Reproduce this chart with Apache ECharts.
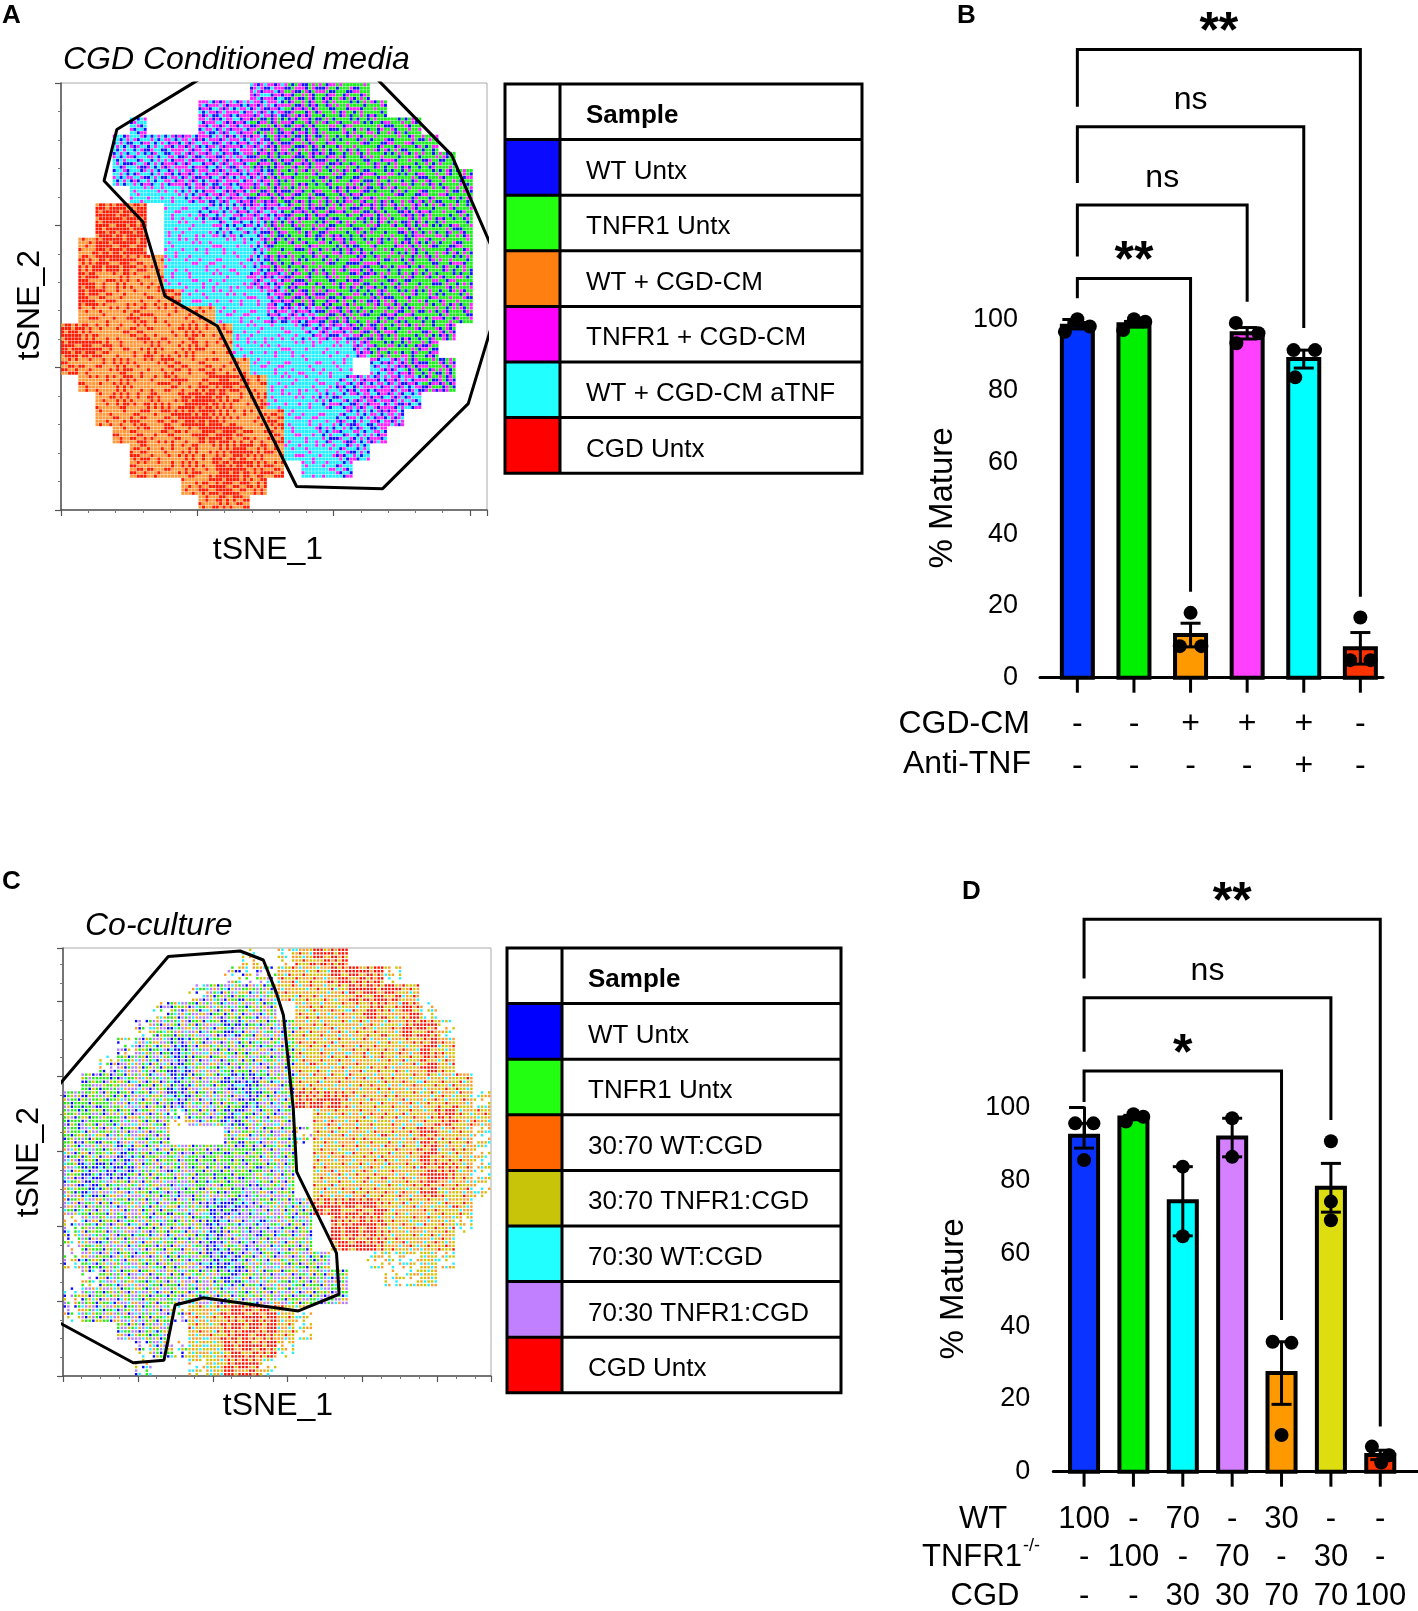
<!DOCTYPE html>
<html>
<head>
<meta charset="utf-8">
<title>tSNE maps and % mature</title>
<script src="https://cdn.jsdelivr.net/npm/echarts@6.0.0/dist/echarts.min.js"></script>
<style>
html, body { margin: 0; padding: 0; background: #fff; }
#chart { width: 1418px; height: 1611px; }
</style>
</head>
<body>
<div id="chart"></div>
<script>
var FONT = '"Liberation Sans", Arial, Helvetica, sans-serif';

// ---------- panel A : tSNE, CGD conditioned media ----------
var samplesA = ['WT Untx', 'TNFR1 Untx', 'WT + CGD-CM', 'TNFR1 + CGD-CM', 'WT + CGD-CM aTNF', 'CGD Untx'];
var keysA = ['b', 'g', 'o', 'm', 'c', 'r'];
var swatchA = ['#0a0aff', '#22ff11', '#ff8010', '#ff00ff', '#22ffff', '#ff0000'];
var dotA = ['#1414ff', '#1ef01e', '#ff9a3a', '#ff22ff', '#22f0ff', '#ff1a00'];
// which samples dominate each cell of the map
var mixA = { r: 'rrrro', o: 'oooor', h: 'oror', c: 'ccccm', k: 'cmcb', m: 'mbmc', x: 'mbg', g: 'ggbgm' };
var cellsRowsA = [
  '...........mmxxxgg......',
  '........mmmmmxxgggg.....',
  '....k...mmmxxxxgggggg...',
  '...kkkmmmmmmxxxggggggg..',
  '...kkkmmmmmxxxxxggggggg.',
  '...kkkmmmmmmxggggxgggggg',
  '....ccckmmmxxxggxxgggggg',
  '..rrr.cckkmmmxxxgxxgxggg',
  '..rrr.ccckkkxggxggggxggg',
  '.orrr.ccccckggggxgggxggg',
  '.hrrhoccccckxggggxgggggg',
  '.rohoocccccmmxgggxgggggg',
  '.rhooohcccccmxxxggxggggg',
  '.ooohoooocccmmmxxggxgggg',
  'rhoohoohoocccckmmxxgggx.',
  'rrhoohohoocccccccmgggx..',
  'hoohoohohoocccccc.kmxgx.',
  '.oohoohohrhocccckmmmmxx.',
  '..ohohorrhohccckkmmmk...',
  '..oohohrrhoohccckkmm....',
  '...ohohorrhohcckkkm.....',
  '....hoohohrhoccckk......',
  '....hoohorrhh.cck.......',
  '.......ohrhh............',
  '........ohh.............'
];
var gateA = [[35.9, 103], [30.7, 99.8], [13.1, 89.1], [10.1, 77.1], [19.2, 67.5], [24.4, 50.1], [36.7, 43.1],
  [55.3, 5.5], [75.5, 5.0], [95.6, 24.9], [101, 42.8], [101, 61.8], [91.7, 83.1], [75.3, 99.8], [72.2, 103]];

// ---------- panel B : % mature, conditioned media ----------
var bConditions = ['WT Untx', 'TNFR1 Untx', 'WT + CGD-CM', 'TNFR1 + CGD-CM', 'WT + CGD-CM aTNF', 'CGD Untx'];
var bMeans = [98.2, 98.6, 11.9, 96.1, 88.9, 8.2];
var bSem = [0.9, 0.8, 3.3, 1.6, 2.5, 4.4];
var bColors = ['#0033ff', '#00f000', '#ff9900', '#ff40ff', '#00ffff', '#ff3300'];
var bPoints = [
  [[-0.22, 96.5], [0, 100], [0.22, 98]],
  [[-0.19, 97], [0, 100], [0.2, 99.3]],
  [[0, 18.1], [-0.19, 8.8], [0.19, 8.8]],
  [[-0.2, 99], [-0.19, 93.3], [0.2, 96.1]],
  [[-0.18, 91.4], [0.2, 91.4], [-0.15, 83.8]],
  [[0, 16.8], [-0.18, 4.9], [0.18, 4.9]]
];
var bCgdCm = ['-', '-', '+', '+', '+', '-'];
var bAntiTnf = ['-', '-', '-', '-', '+', '-'];
var bPairs = [[0, 2], [0, 3], [0, 4], [0, 5]];
var bLevels = [111.4, 131.9, 153.7, 175.3];
var bLegs = [[105.9, 24], [117.5, 104.9], [138, 97.6], [159.3, 22.6]];
var bSig = ['**', 'ns', 'ns', '**'];

// ---------- panel C : tSNE, co-culture ----------
var samplesC = ['WT Untx', 'TNFR1 Untx', '30:70 WT:CGD', '30:70 TNFR1:CGD', '70:30 WT:CGD', '70:30 TNFR1:CGD', 'CGD Untx'];
var keysC = ['b', 'g', 'o', 'y', 'c', 'p', 'r'];
var swatchC = ['#0000ff', '#22ff11', '#ff6600', '#c8c40a', '#22ffff', '#c080ff', '#ff0000'];
var dotC = ['#0a0aff', '#22ee11', '#ff9a2a', '#d0c400', '#22f0ff', '#b47cff', '#ff1000'];
var mixC = { L: 'pgpbcyog', S: 'pgbcyo', B: 'bbpgcb', G: 'ggpbgy', P: 'ppbgcp', Q: 'oyoycroy', s: 'oyc', R: 'rrorry', Y: 'yoyc' };
var cellsRowsC = [
  '..........s.sQRR........',
  '.........SSSQQQRRRs.....',
  '.......SLLLLQQQQRRRQ....',
  '.....SLLLLLL.QQQQRQRs...',
  '....SLLLLBLLLQQQQQQRRs..',
  '...SLLBLLLLLLQQQQQQQRQ..',
  '..SLLLBLLLLLLQQQQQQQRQ..',
  '.GGLLLBLLBBLLQQQQQQQQQQ.',
  'GGGLLLBLLLBLLRRRQQQQQQQs',
  'GGGLLLSLLBLLL.QQQQQQQRQQ',
  'GLLLLL...LLLLSQQQQQQRQQs',
  'LLLBLLLGGGGLL.QQQQQQRQQs',
  'LBBBLLLGGGGLL.QQQQQQRRQs',
  'LBLLLLPGLGPLL.QQQQQQRQQs',
  'LLLLLLLLBBPLLLRRRRQQQQQ.',
  'SLLLLLLLBLPPLL.RRRQQQQs.',
  'SLLLLLLLBLPLLL.RRRQQQQ..',
  'SLLLLLLLBBLLLLL..sssYs..',
  '.SLLLLLLLBLLLLLL..ssY...',
  'SLLLLLLLLLLLLLLL........',
  'SLLLLLSQQRRRQs..........',
  '...LLL.QQRRRQs..........',
  '....SLSYYRRRs...........',
  '....S..sYRRs............'
];
var gateC = [[-2.8, 65.8], [24.6, 98.0], [41.4, 99.3], [46.8, 97.2], [49.9, 89.4], [51.5, 84.3], [53.8, 62.5],
  [54.6, 47.7], [63.9, 28.7], [64.5, 19.1], [55.0, 15.2], [32.8, 18.3], [26.2, 16.6], [23.6, 3.7], [16.4, 3.1], [-3, 13.6]];

// ---------- panel D : % mature, co-culture ----------
var dMeans = [92.3, 97.3, 74.3, 91.8, 27.1, 78.0, 4.6];
var dSem = [3.4, 0.6, 9.5, 5.3, 8.6, 6.7, 1.3];
var dColors = ['#0a33ff', '#00ee00', '#00ffff', '#d580ff', '#ff9900', '#dddd10', '#ff3300'];
var dPoints = [
  [[-0.18, 95.7], [0.19, 95.7], [0, 85.6]],
  [[-0.15, 96.2], [0, 98.2], [0.2, 97.5]],
  [[0, 83.8], [0, 64.7]],
  [[0, 97.1], [0, 86.5]],
  [[-0.18, 35.7], [0.2, 35.4], [0, 10.1]],
  [[0, 90.8], [0, 74.2], [0, 69.1]],
  [[-0.17, 6.9], [0.18, 4.5], [0.02, 2.5]]
];
var dWT = ['100', '-', '70', '-', '30', '-', '-'];
var dTNFR1 = ['-', '100', '-', '70', '-', '30', '-'];
var dCGD = ['-', '-', '30', '30', '70', '70', '100'];
var dPairs = [[0, 4], [0, 5], [0, 6]];
var dLevels = [110.1, 130.2, 151.8];
var dLegs = [[101.6, 41.7], [115.4, 96.6], [135.5, 12.4]];
var dSig = ['*', 'ns', '**'];

var pctTicks = [0, 20, 40, 60, 80, 100];

// fixed ordering used to spread a cell's samples over its 5x5 dots
var DITHER = [[0, 18, 11, 4, 22], [7, 20, 13, 1, 16], [14, 2, 24, 9, 6], [21, 10, 5, 17, 12], [3, 15, 8, 23, 19]];

function makeCells(rows, mixes, keys, sparse, box) {
  var n = 5;
  var out = keys.map(function () { return []; });
  var nc = rows[0].length, nr = rows.length;
  var cw = (box[1] - box[0]) / nc, chh = (box[3] - box[2]) / nr;
  rows.forEach(function (row, i) {
    for (var j = 0; j < nc; j++) {
      var code = row.charAt(j);
      if (code === '.') continue;
      var mix = mixes[code];
      var turn = (i * 2 + j) % 4;
      for (var a = 0; a < n; a++) {
        for (var b = 0; b < n; b++) {
          var ra = a, rb = b;
          if (turn === 1) { ra = b; rb = n - 1 - a; }
          else if (turn === 2) { ra = n - 1 - a; rb = n - 1 - b; }
          else if (turn === 3) { ra = n - 1 - b; rb = a; }
          var d = DITHER[ra][rb];
          if (sparse.indexOf(code) >= 0 && d % 2) continue;
          var key = mix.charAt((Math.floor(d * mix.length / 25) + i + j) % mix.length);
          out[keys.indexOf(key)].push([box[0] + (j + (b + 0.5) / n) * cw, box[3] - (i + (a + 0.5) / n) * chh]);
        }
      }
    }
  });
  return out;
}

function txt(s, x, y, size, opts) {
  opts = opts || {};
  return {
    type: 'text', x: x, y: y, rotation: opts.rot || 0, z: 100,
    style: {
      text: s, fill: '#000', fontSize: size, fontFamily: FONT,
      fontWeight: opts.bold ? 'bold' : 'normal', fontStyle: opts.italic ? 'italic' : 'normal',
      align: opts.align || 'left', verticalAlign: 'middle',
      textAlign: opts.align || 'left', textVerticalAlign: 'middle'
    }
  };
}

function legendTable(left, top, width, divX, rowH, names, colors) {
  var els = [];
  var n = names.length + 1;
  colors.forEach(function (c, r) {
    els.push({ type: 'rect', shape: { x: left, y: top + rowH * (r + 1), width: divX - left, height: rowH }, style: { fill: c } });
  });
  for (var r = 1; r < n; r++) {
    els.push({ type: 'line', shape: { x1: left, y1: top + rowH * r, x2: left + width, y2: top + rowH * r }, style: { stroke: '#000', lineWidth: 3 } });
  }
  els.push({ type: 'line', shape: { x1: divX, y1: top, x2: divX, y2: top + rowH * n }, style: { stroke: '#000', lineWidth: 3 } });
  els.push({ type: 'rect', shape: { x: left, y: top, width: width, height: rowH * n }, style: { fill: 'none', stroke: '#000', lineWidth: 3 } });
  els.push(txt('Sample', divX + 26, top + rowH / 2 + 4, 26, { bold: true }));
  names.forEach(function (nm, r) {
    els.push(txt(nm, divX + 26, top + rowH * (r + 1.5) + 4, 26));
  });
  return els;
}

function barRender(colors, halfFrac) {
  return function (params, api) {
    var i = api.value(0), mean = api.value(1), sem = api.value(2);
    var base = api.coord([i, 0]);
    var top = api.coord([i, mean]);
    var hi = api.coord([i, mean + sem]);
    var lo = api.coord([i, Math.max(mean - sem, 0)]);
    var w = api.size([1, 0])[0] * halfFrac, cap = 10;
    var ln = function (x1, y1, x2, y2) {
      return { type: 'line', shape: { x1: x1, y1: y1, x2: x2, y2: y2 }, style: { stroke: '#000', lineWidth: 3 } };
    };
    return {
      type: 'group', children: [
        { type: 'rect', shape: { x: base[0] - w, y: top[1], width: 2 * w, height: base[1] - top[1] }, style: { fill: colors[i], stroke: '#000', lineWidth: 4 } },
        ln(base[0], hi[1], base[0], lo[1]),
        ln(base[0] - cap, hi[1], base[0] + cap, hi[1]),
        ln(base[0] - cap, lo[1], base[0] + cap, lo[1]),
        ln(base[0], base[1], base[0], base[1] + 15)
      ]
    };
  };
}

function bracketRender(pairs, levels, legs, texts) {
  return function (params, api) {
    var k = params.dataIndex, p = pairs[k];
    var a = api.coord([p[0], legs[k][0]]), b = api.coord([p[0], levels[k]]);
    var c = api.coord([p[1], levels[k]]), d = api.coord([p[1], legs[k][1]]);
    var star = texts[k].charAt(0) === '*';
    return {
      type: 'group', children: [
        { type: 'polyline', shape: { points: [a, b, c, d] }, style: { stroke: '#000', lineWidth: 3, fill: 'none' } },
        {
          type: 'text', style: {
            text: texts[k], x: (b[0] + c[0]) / 2, y: b[1] - 26 + (star ? 10 : -1),
            fontSize: star ? 50 : 32, fontWeight: star ? 'bold' : 'normal', fontFamily: FONT, fill: '#000',
            align: 'center', verticalAlign: 'middle', textAlign: 'center', textVerticalAlign: 'middle'
          }
        }
      ]
    };
  };
}

function rowRender(rows, ys, size) {
  return function (params, api) {
    var i = api.value(0);
    var x = api.coord([i, 0])[0];
    return {
      type: 'group', children: rows.map(function (r, k) {
        return {
          type: 'text', style: {
            text: r[i], x: x, y: ys[k], fontSize: size, fontFamily: FONT, fill: '#000',
            align: 'center', verticalAlign: 'middle', textAlign: 'center', textVerticalAlign: 'middle'
          }
        };
      })
    };
  };
}

function tsneAxes(gridIndex, xInterval, xSplit, yInterval, ySplit) {
  var common = function (interval, split) {
    return {
      type: 'value', gridIndex: gridIndex, min: 0, max: 100, interval: interval,
      axisLine: { show: true, lineStyle: { color: '#555', width: 1.5 } },
      axisTick: { show: true, length: 6, lineStyle: { color: '#555', width: 1.2 } },
      minorTick: { show: true, splitNumber: split, length: 3, lineStyle: { color: '#777', width: 1 } },
      axisLabel: { show: false }, splitLine: { show: false }, minorSplitLine: { show: false }
    };
  };
  return { x: common(xInterval, xSplit), y: common(yInterval, ySplit) };
}

function pctAxes(gridIndex, xmin, xmax, margin) {
  return {
    x: {
      type: 'value', gridIndex: gridIndex, min: xmin, max: xmax,
      axisLine: { show: true, onZero: false, lineStyle: { color: '#000', width: 3 } },
      axisTick: { show: false }, axisLabel: { show: false }, splitLine: { show: false }
    },
    y: {
      type: 'value', gridIndex: gridIndex, min: pctTicks[0], max: pctTicks[pctTicks.length - 1], interval: pctTicks[1] - pctTicks[0],
      axisLine: { show: true, lineStyle: { color: '#000', width: 3 } },
      axisTick: { show: true, length: 15, lineStyle: { color: '#000', width: 3 } },
      axisLabel: { show: true, margin: margin, fontSize: 27, fontFamily: FONT, color: '#000' },
      splitLine: { show: false }
    }
  };
}

var axA = tsneAxes(0, 32, 5, 100 / 3, 5);
var axB = pctAxes(1, -0.66, 5.4, 22);
var axC = tsneAxes(2, 17.5, 4, 17.5, 4);
var axD = pctAxes(3, -0.623, 6.75, 23);

var series = [];

var cellsA = makeCells(cellsRowsA, mixA, keysA, '', [0, 96.7, -0.52, 100]);
samplesA.forEach(function (nm, k) {
  series.push({
    type: 'scatter', name: 'A ' + nm, xAxisIndex: 0, yAxisIndex: 0, data: cellsA[k],
    symbol: 'rect', symbolSize: 3.05, itemStyle: { color: dotA[k], opacity: 1 }, large: true, largeThreshold: 300, silent: true
  });
});
series.push({
  type: 'line', xAxisIndex: 0, yAxisIndex: 0, data: gateA, showSymbol: false, symbol: 'none', clip: true, z: 5,
  lineStyle: { color: '#000', width: 3 }, silent: true
});

var cellsC = makeCells(cellsRowsC, mixC, keysC, 'Ss', [0, 100, 0, 100]);
samplesC.forEach(function (nm, k) {
  series.push({
    type: 'scatter', name: 'C ' + nm, xAxisIndex: 2, yAxisIndex: 2, data: cellsC[k],
    symbol: 'rect', symbolSize: 2.4, itemStyle: { color: dotC[k], opacity: 1 }, large: true, largeThreshold: 300, silent: true
  });
});
series.push({
  type: 'line', xAxisIndex: 2, yAxisIndex: 2, data: gateC, showSymbol: false, symbol: 'none', clip: true, z: 5,
  lineStyle: { color: '#000', width: 3 }, silent: true
});

function addBarPanel(axisIndex, means, sem, colors, points, halfFrac, dotSize, pairs, levels, legs, sig, rows, rowYs, rowSize) {
  series.push({
    type: 'custom', xAxisIndex: axisIndex, yAxisIndex: axisIndex, renderItem: barRender(colors, halfFrac),
    data: means.map(function (m, i) { return [i, m, sem[i]]; }), encode: { x: 0, y: 1 }, z: 2, silent: true
  });
  var pts = [];
  points.forEach(function (grp, i) { grp.forEach(function (p) { pts.push([i + p[0], p[1]]); }); });
  series.push({
    type: 'scatter', xAxisIndex: axisIndex, yAxisIndex: axisIndex, data: pts, symbolSize: dotSize,
    itemStyle: { color: '#000', opacity: 1 }, z: 4, silent: true, clip: false
  });
  series.push({
    type: 'custom', xAxisIndex: axisIndex, yAxisIndex: axisIndex, renderItem: bracketRender(pairs, levels, legs, sig),
    data: pairs.map(function (p, k) { return [p[0], levels[k]]; }), encode: { x: 0, y: 1 }, z: 3, clip: false, silent: true
  });
  series.push({
    type: 'custom', xAxisIndex: axisIndex, yAxisIndex: axisIndex, renderItem: rowRender(rows, rowYs, rowSize),
    data: means.map(function (m, i) { return [i, 0]; }), encode: { x: 0, y: 1 }, z: 3, clip: false, silent: true
  });
}

addBarPanel(1, bMeans, bSem, bColors, bPoints, 0.274, 14, bPairs, bLevels, bLegs, bSig,
  [bCgdCm, bAntiTnf], [724, 766], 32);
addBarPanel(3, dMeans, dSem, dColors, dPoints, 0.284, 14, dPairs, dLevels, dLegs, dSig,
  [dWT, dTNFR1, dCGD], [1519, 1557, 1596], 31);

var graphics = [
  txt('A', 2, 16, 26, { bold: true }),
  txt('B', 957, 16, 26, { bold: true }),
  txt('C', 2, 882, 26, { bold: true }),
  txt('D', 962, 892, 26, { bold: true }),
  txt('CGD Conditioned media', 63, 60, 32, { italic: true }),
  txt('Co-culture', 85, 926, 32, { italic: true }),
  txt('tSNE_1', 268, 550, 32, { align: 'center' }),
  txt('tSNE_2', 30, 305, 32, { align: 'center', rot: Math.PI / 2 }),
  txt('tSNE_1', 278, 1406, 32, { align: 'center' }),
  txt('tSNE_2', 29, 1162, 32, { align: 'center', rot: Math.PI / 2 }),
  txt('% Mature', 943, 498, 33, { align: 'center', rot: Math.PI / 2 }),
  txt('% Mature', 954, 1289, 33, { align: 'center', rot: Math.PI / 2 }),
  txt('CGD-CM', 1030, 724, 32, { align: 'right' }),
  txt('Anti-TNF', 1031, 764, 32, { align: 'right' }),
  txt('WT', 983, 1519, 31, { align: 'center' }),
  txt('TNFR1', 922, 1557, 31),
  txt('-/-', 1023, 1546, 18),
  txt('CGD', 985, 1596, 31, { align: 'center' })
].concat(legendTable(505, 84, 357, 560, 55.6, samplesA, swatchA))
 .concat(legendTable(507, 948, 334, 562, 55.6, samplesC, swatchC));

var chart = echarts.init(document.getElementById('chart'), null, { renderer: 'canvas', width: 1418, height: 1611 });
chart.setOption({
  animation: false,
  backgroundColor: '#fff',
  textStyle: { fontFamily: FONT },
  grid: [
    { left: 61, top: 83, width: 426, height: 427, show: true, borderColor: '#aaa', borderWidth: 1, backgroundColor: 'transparent' },
    { left: 1040, top: 319.3, width: 343, height: 358.4 },
    { left: 63, top: 948, width: 428, height: 428, show: true, borderColor: '#aaa', borderWidth: 1, backgroundColor: 'transparent' },
    { left: 1053.3, top: 1107.7, width: 364, height: 364 }
  ],
  xAxis: [axA.x, axB.x, axC.x, axD.x],
  yAxis: [axA.y, axB.y, axC.y, axD.y],
  series: series,
  graphic: { elements: graphics }
});
</script>
</body>
</html>
